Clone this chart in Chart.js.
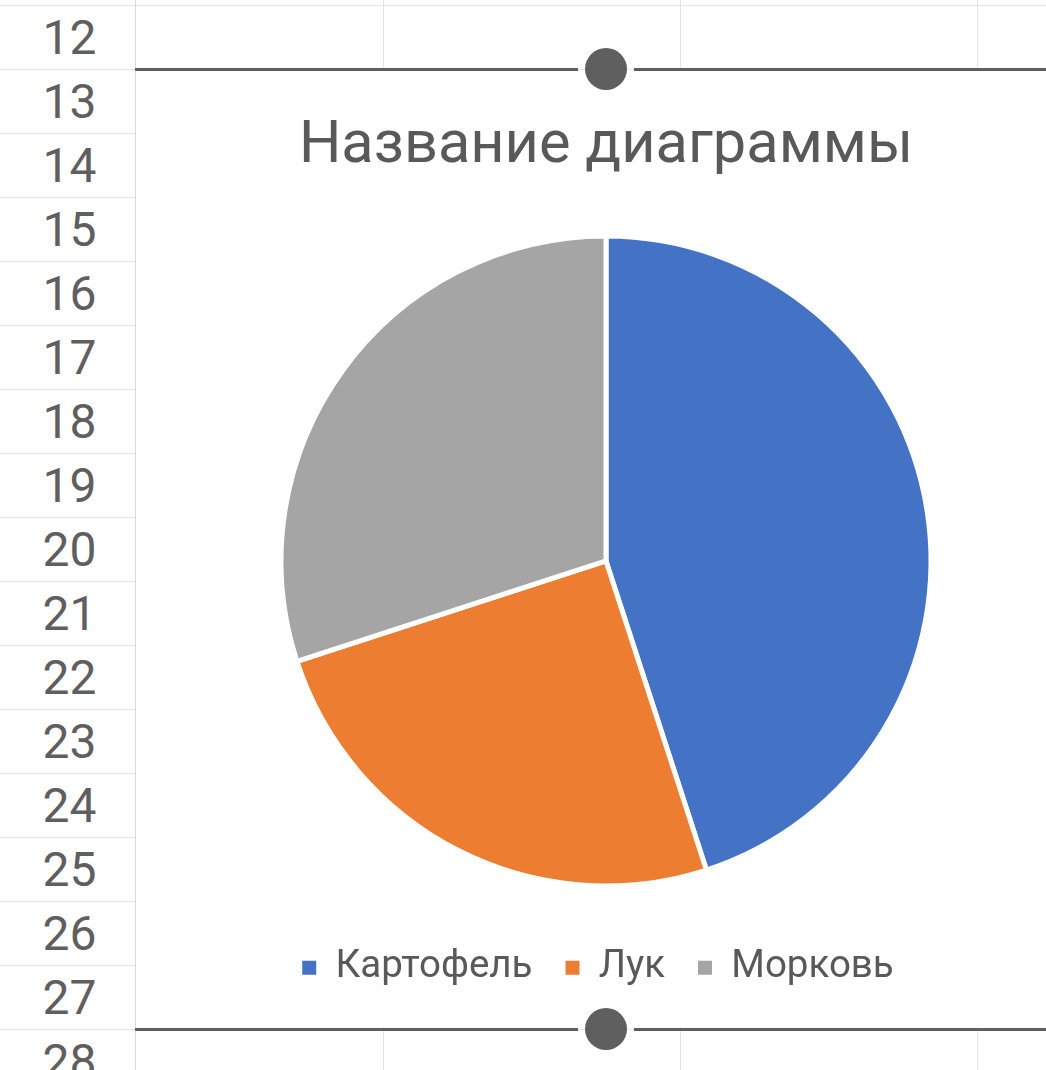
<!DOCTYPE html>
<html lang="ru">
<head>
    <meta charset="UTF-8">
    <title>Название диаграммы</title>
    <script src="https://cdn.jsdelivr.net/npm/chart.js"></script>
    <style>
        html, body {
            margin: 0;
            padding: 0;
            width: 1046px;
            height: 1070px;
            overflow: hidden;
            background: #fff;
            font-family: Roboto, sans-serif;
        }
        #sheet {
            position: absolute;
            left: 0;
            top: 0;
            width: 1046px;
            height: 1070px;
        }
        .hline {
            position: absolute;
            left: 0;
            width: 1046px;
            height: 1px;
            background: #e3e3e3;
        }
        .vline {
            position: absolute;
            width: 1px;
            background: #e3e3e3;
        }
        .rownum {
            position: absolute;
            left: 2px;
            width: 135px;
            height: 64px;
            line-height: 64px;
            text-align: center;
            font-size: 48px;
            color: #5f5f5f;
        }
        #chartBox {
            position: absolute;
            left: 136px;
            top: 71px;
            width: 940px;
            height: 956px;
            background: #fff;
        }
        .selLine {
            position: absolute;
            height: 3px;
            background: #5f5f5f;
        }
        .handle {
            position: absolute;
            width: 42px;
            height: 42px;
            border-radius: 50%;
            background: #5f5f5f;
        }
    </style>
</head>
<body>
    <div id="sheet"></div>

    <div id="chartBox">
        <canvas id="pieChart" width="940" height="956"></canvas>
    </div>

    <!-- selection frame around the chart -->
    <div class="selLine" style="left:135px; top:68px; width:443px;"></div>
    <div class="selLine" style="left:634px; top:68px; width:412px;"></div>
    <div class="handle" style="left:585px; top:48px;"></div>
    <div class="selLine" style="left:135px; top:1028px; width:443px;"></div>
    <div class="selLine" style="left:634px; top:1028px; width:412px;"></div>
    <div class="handle" style="left:585px; top:1008px;"></div>

    <script>
        // chart data
        const categories = ['Картофель', 'Лук', 'Морковь'];
        const values = [45, 25, 30];
        const sliceColors = ['#4472C4', '#ED7D31', '#A5A5A5'];
        const chartTitle = 'Название диаграммы';

        // spreadsheet row labels shown at the left
        const rowNumbers = [12, 13, 14, 15, 16, 17, 18, 19, 20, 21, 22, 23, 24, 25, 26, 27, 28];

        // draw the sheet grid behind the chart
        const sheet = document.getElementById('sheet');
        const rowTop = 5, rowH = 64;
        for (let i = 0; i <= rowNumbers.length; i++) {
            const line = document.createElement('div');
            line.className = 'hline';
            line.style.top = (rowTop + i * rowH) + 'px';
            sheet.appendChild(line);
        }
        rowNumbers.forEach((n, i) => {
            const cell = document.createElement('div');
            cell.className = 'rownum';
            cell.style.top = (rowTop + i * rowH + 1) + 'px';
            cell.textContent = n;
            sheet.appendChild(cell);
        });
        [135, 383, 680, 977].forEach(x => {
            const v = document.createElement('div');
            v.className = 'vline';
            v.style.left = x + 'px';
            v.style.top = '0px';
            v.style.height = '1070px';
            if (x === 135) v.style.background = '#d9d9d9';
            sheet.appendChild(v);
        });

        // legend in the original sits a few px left of the pie centre
        const legendShift = {
            id: 'legendShift',
            afterLayout(chart) {
                chart.legend.left -= 8;
                chart.legend.right -= 8;
            }
        };

        const ctx = document.getElementById('pieChart').getContext('2d');
        new Chart(ctx, {
            type: 'pie',
            data: {
                labels: categories,
                datasets: [{
                    data: values,
                    backgroundColor: sliceColors,
                    borderColor: '#ffffff',
                    borderWidth: 5,
                    hoverOffset: 0,
                    radius: 325
                }]
            },
            options: {
                responsive: false,
                animation: false,
                events: [],
                layout: {
                    padding: { top: 0, bottom: 30, left: 0, right: 0 }
                },
                plugins: {
                    title: {
                        display: true,
                        text: chartTitle,
                        color: '#595959',
                        font: { family: 'Roboto', size: 59.5, weight: 'normal' },
                        padding: { top: 40, bottom: 24 }
                    },
                    legend: {
                        position: 'bottom',
                        labels: {
                            boxWidth: 14,
                            boxHeight: 14,
                            padding: 33,
                            color: '#595959',
                            font: { family: 'Roboto', size: 38.5 },
                            generateLabels(chart) {
                                // no white slice border on the legend squares
                                const items = Chart.overrides.pie.plugins.legend.labels.generateLabels(chart);
                                items.forEach(it => { it.lineWidth = 0; });
                                return items;
                            }
                        }
                    },
                    tooltip: { enabled: false }
                }
            },
            plugins: [legendShift]
        });
    </script>
</body>
</html>
